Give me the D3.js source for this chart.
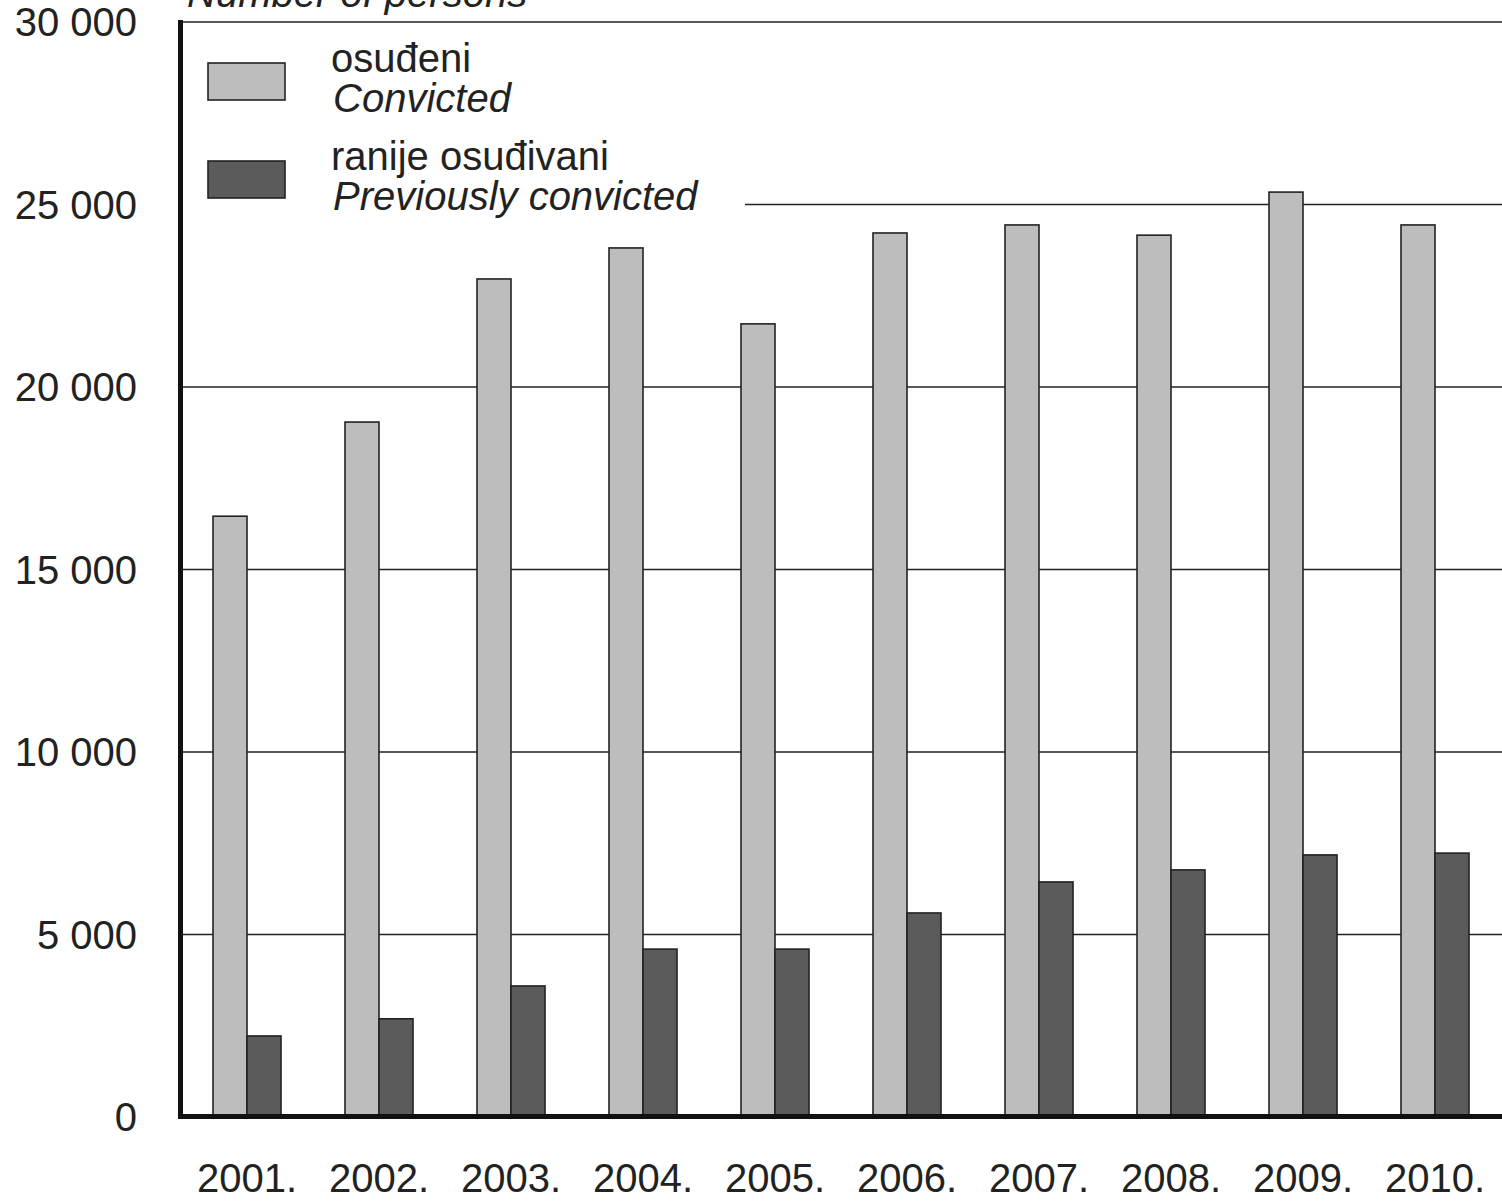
<!DOCTYPE html>
<html><head><meta charset="utf-8">
<script src="https://cdn.jsdelivr.net/npm/d3@7"></script>
<style>body{margin:0;background:#fff}svg{display:block}</style>
</head><body>
<script>
const years = ["2001.","2002.","2003.","2004.","2005.","2006.","2007.","2008.","2009.","2010."];
const convicted = [16460, 19040, 22960, 23810, 21730, 24220, 24440, 24160, 25340, 24440];
const previouslyConvicted = [2220, 2690, 3590, 4600, 4600, 5590, 6440, 6770, 7180, 7230];
const yTicks = [0, 5000, 10000, 15000, 20000, 25000, 30000];
const seriesNames = [["osuđeni","Convicted"],["ranije osuđivani","Previously convicted"]];
const axisTitle = "Number of persons";

const W = 1502, H = 1202;
const font = "'Liberation Sans', Arial, sans-serif";
const svg = d3.select("body").append("svg").attr("width", W).attr("height", H);

const x = d3.scaleBand().domain(years).range([181, 1501]);
const y = d3.scaleLinear().domain([0, 30000]).range([1117, 22]);
const inner = d3.scaleBand().domain([0,1]).range([0, 68]);
const colors = ["#bdbdbd", "#5b5b5b"];

// gridlines
const fmt = v => v === 0 ? "0" : d3.format(",")(v).replace(/,/g, " ");
svg.append("g").selectAll("line").data(yTicks.filter(t => t > 0 && t < 30000)).join("line")
  .attr("x1", d => d === 25000 ? 745 : 181).attr("x2", W)
  .attr("y1", d => y(d)).attr("y2", d => y(d))
  .attr("stroke", "#222").attr("stroke-width", 1.6);
// top frame
svg.append("line").attr("x1", 181).attr("x2", W).attr("y1", y(30000)).attr("y2", y(30000))
  .attr("stroke", "#222").attr("stroke-width", 1.6);

// bars
const series = [convicted, previouslyConvicted];
series.forEach((vals, si) => {
  svg.append("g").selectAll("rect").data(vals).join("rect")
    .attr("x", (d, i) => x(years[i]) + 32 + inner(si))
    .attr("width", inner.bandwidth())
    .attr("y", d => y(d))
    .attr("height", d => y(0) - y(d))
    .attr("fill", colors[si]).attr("stroke", "#222").attr("stroke-width", 1.6);
});

// axes lines
svg.append("line").attr("x1", 180.5).attr("x2", 180.5).attr("y1", 20).attr("y2", 1119)
  .attr("stroke", "#111").attr("stroke-width", 5);
svg.append("line").attr("x1", 178).attr("x2", W).attr("y1", 1116.5).attr("y2", 1116.5)
  .attr("stroke", "#111").attr("stroke-width", 5);

// y tick labels
svg.append("g").selectAll("text").data(yTicks).join("text")
  .attr("x", 137).attr("y", d => y(d)).attr("dy", "0.36em")
  .attr("text-anchor", "end").attr("font-family", font).attr("font-size", 40)
  .attr("fill", "#222").text(fmt);

// x labels
svg.append("g").selectAll("text").data(years).join("text")
  .attr("x", d => x(d) + x.bandwidth() / 2).attr("y", 1192)
  .attr("text-anchor", "middle").attr("font-family", font).attr("font-size", 40)
  .attr("fill", "#222").text(d => d);

// axis title (cut off at top, as in the original)
svg.append("text").attr("x", 187).attr("y", 7).attr("font-family", font)
  .attr("font-size", 40).attr("font-style", "italic").attr("fill", "#222").text(axisTitle);

// legend
const lg = svg.append("g");
seriesNames.forEach((names, i) => {
  const top = 63 + i * 98;
  lg.append("rect").attr("x", 208).attr("y", top).attr("width", 77).attr("height", 37)
    .attr("fill", colors[i]).attr("stroke", "#222").attr("stroke-width", 1.6);
  lg.append("text").attr("x", 331).attr("y", top + 9).attr("font-family", font)
    .attr("font-size", 40).attr("fill", "#222").text(names[0]);
  lg.append("text").attr("x", 333).attr("y", top + 49).attr("font-family", font)
    .attr("font-size", 40).attr("font-style", "italic").attr("fill", "#222").text(names[1]);
});
</script>
</body></html>
